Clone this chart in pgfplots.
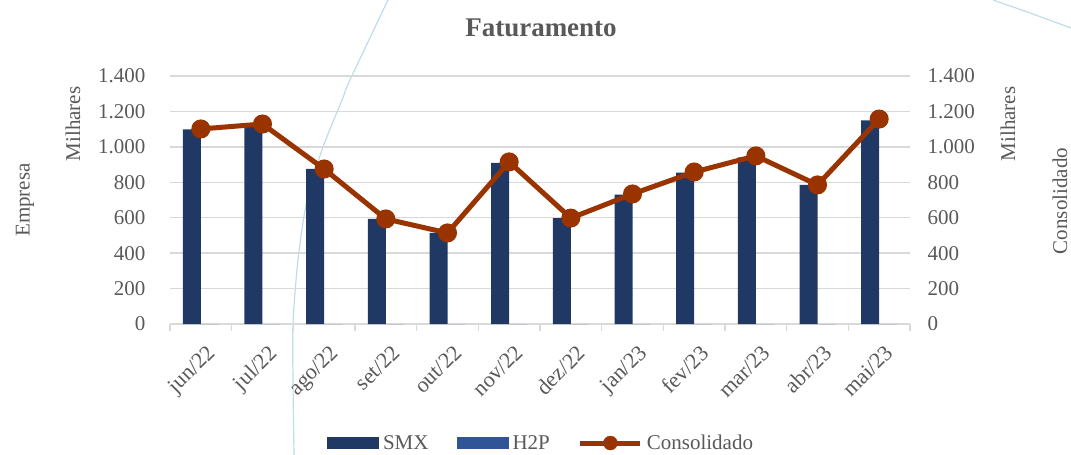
\documentclass[border=0pt]{standalone}
\usepackage{pgfplots}
\pgfplotsset{compat=1.18}
\usepackage{fontspec}
\setmainfont{Liberation Serif}

\definecolor{smx}{HTML}{203864}
\definecolor{htp}{HTML}{2F5597}
\definecolor{cons}{HTML}{993300}
\definecolor{txt}{HTML}{595959}
\definecolor{grd}{HTML}{D9D9D9}
\definecolor{deco}{HTML}{BFDDE8}

\newcommand{\lbl}{\fontsize{21}{25}\selectfont}

\pgfplotsset{
  base/.style={
    at={(0pt,0pt)}, anchor=south west,
    scale only axis, width=740pt, height=248pt,
    xmin=-0.5, xmax=11.5, ymin=0, ymax=1400,
    ytick={0,200,...,1400},
    major tick length=0pt,
    y tick style={draw=none},
    y axis line style={draw=none},
    ticklabel style={font=\lbl, text=txt},
    /pgf/number format/.cd, fixed, 1000 sep={.}, assume math mode=true,
  },
}

\begin{document}
\begin{tikzpicture}[x=1pt,y=1pt]
\path[use as bounding box] (-170,-131) rectangle (901,324);

% faint background arcs
\draw[deco, line width=1.2pt] plot[smooth] coordinates
  {(218,324) (180,244) (172,224) (152,174) (137,124) (128,64) (123,0) (123,-56) (124,-131)};
\draw[deco, line width=1.2pt] plot[smooth] coordinates
  {(823,324) (860,311) (901,296)};

% bars, left axis
\begin{axis}[base,
  ybar=0pt, bar width=18pt,
  axis x line*=bottom, axis y line*=left,
  x axis line style={grd, line width=1.5pt},
  ymajorgrids, grid style={grd, line width=1.5pt},
  xtick={0,...,11},
  xticklabels={jun/22,jul/22,ago/22,set/22,out/22,nov/22,dez/22,jan/23,fev/23,mar/23,abr/23,mai/23},
  minor xtick={-0.5,0.5,...,11.5},
  minor tick length=7pt, tick align=outside,
  minor x tick style={grd, line width=1.5pt},
  major x tick style={draw=none},
  xticklabel style={font=\fontsize{22}{26}\selectfont, xshift=5pt, yshift=-15pt, rotate=45, anchor=north east},
  yticklabel style={xshift=-21pt},
  legend columns=3,
  legend style={at={(0.5014,-0.48)}, anchor=center, draw=none, fill=none,
    font=\lbl, text=txt,
    /tikz/every even column/.append style={column sep=26pt},
    /tikz/every odd column/.append style={column sep=2pt}},
]
\addplot[fill=smx, draw=none,
  legend image code/.code={\fill[smx] (0pt,-6pt) rectangle (52pt,6pt);}]
  coordinates {(0,1098) (1,1111) (2,875) (3,593) (4,514) (5,910)
               (6,598) (7,730) (8,855) (9,940) (10,785) (11,1150)};
\addplot[fill=htp, draw=none,
  legend image code/.code={\fill[htp] (0pt,-6pt) rectangle (52pt,6pt);}]
  coordinates {(0,0) (1,0) (2,0) (3,0) (4,0) (5,0)
               (6,0) (7,0) (8,0) (9,0) (10,0) (11,0)};
\addlegendimage{legend image code/.code={
  \draw[cons, line width=5pt] (0pt,0pt) -- (60pt,0pt);
  \fill[cons] (30pt,0pt) circle (7pt);}}
\legend{SMX, H2P, Consolidado}
\end{axis}

% line, right axis
\begin{axis}[base,
  axis x line=none, axis y line*=right,
  yticklabel style={xshift=14pt},
]
\addplot[cons, line width=5pt, mark=*, mark size=7pt]
  coordinates {(0,1101) (1,1129) (2,875) (3,593) (4,514) (5,915)
               (6,598) (7,734) (8,858) (9,949) (10,785) (11,1157)};
\end{axis}

% titles and axis labels
\node[font=\fontsize{27}{32}\selectfont\bfseries, text=txt] at (371,296) {Faturamento};
\node[font=\lbl, text=txt, rotate=90] at (-145,124) {Empresa};
\node[font=\lbl, text=txt, rotate=90] at (-97,200) {Milhares};
\node[font=\lbl, text=txt, rotate=90] at (838,200) {Milhares};
\node[font=\lbl, text=txt, rotate=90] at (890,123) {Consolidado};
\end{tikzpicture}
\end{document}
